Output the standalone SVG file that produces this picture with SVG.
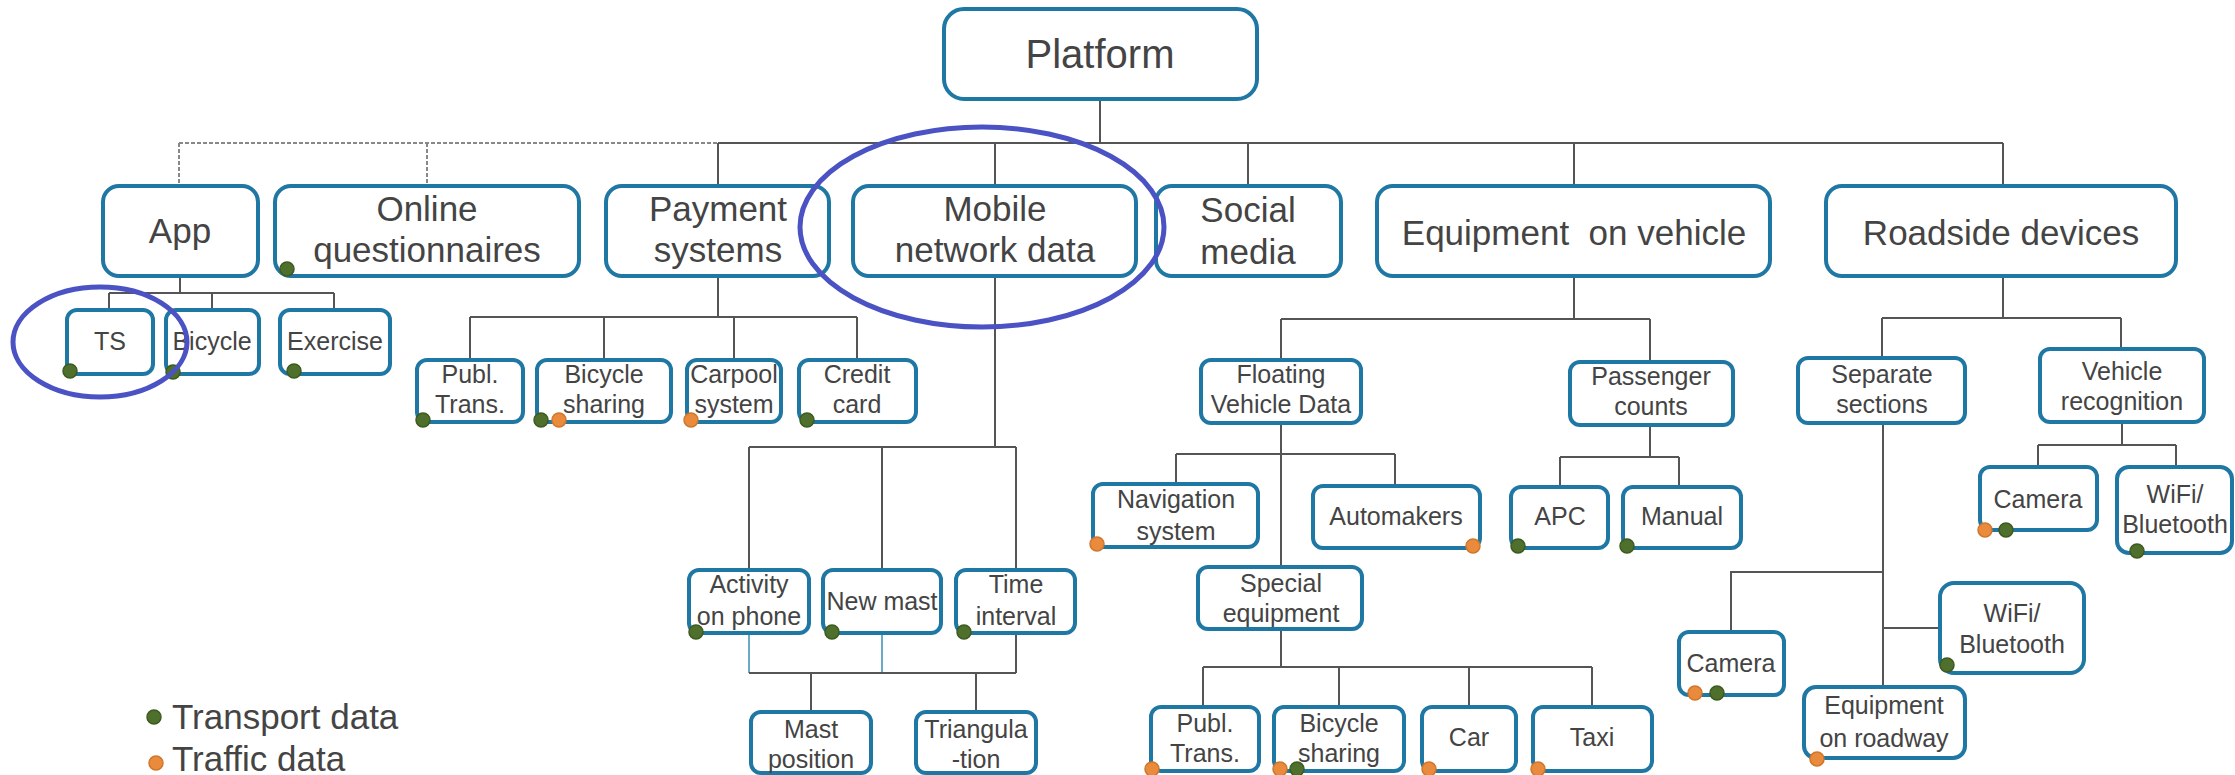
<svg xmlns="http://www.w3.org/2000/svg" width="2235" height="775" viewBox="0 0 2235 775">
<style>
.box{fill:#fff;stroke:#1f77a3;stroke-width:4}
.t0{font-family:"Liberation Sans",Arial,sans-serif;font-size:40px;fill:#444;text-anchor:middle}
.t1{font-family:"Liberation Sans",Arial,sans-serif;font-size:35px;fill:#444;text-anchor:middle}
.t2{font-family:"Liberation Sans",Arial,sans-serif;font-size:25px;fill:#444;text-anchor:middle}
.lg{font-family:"Liberation Sans",Arial,sans-serif;font-size:35px;fill:#444}
.ln{stroke:#555;stroke-width:2;fill:none}
.dl{stroke:#888;stroke-width:2;fill:none;stroke-dasharray:4 2}
.lt{stroke:#6aaac8;stroke-width:2;fill:none}
.g{fill:#4f6f2c;stroke:#3d5a1f;stroke-width:1.5}
.o{fill:#e98a3c;stroke:#d0762c;stroke-width:1.5}
.ring{fill:none;stroke:#4a52c4;stroke-width:5}
</style>
<rect width="2235" height="775" fill="#fff"/>
<g id="connectors">
<line class="ln" x1="1100" y1="99" x2="1100" y2="143"/>
<line class="dl" x1="179" y1="143" x2="718" y2="143"/>
<line class="ln" x1="718" y1="143" x2="2003" y2="143"/>
<line class="dl" x1="179" y1="143" x2="179" y2="186"/>
<line class="dl" x1="427" y1="143" x2="427" y2="186"/>
<path class="ln" d="M718 143V186M995 143V186M1248 143V186M1574 143V186M2003 143V186"/>
<path class="ln" d="M180 276V293M109 293H334M109 293V310M212 293V310M334 293V310"/>
<path class="ln" d="M718 276V317M470 317H857M470 317V360M604 317V360M734 317V360M857 317V360"/>
<path class="ln" d="M995 276V447M749 447H1016M749 447V570M882 447V570M1016 447V570"/>
<path class="lt" d="M749 633V673M882 633V673"/>
<path class="ln" d="M1016 633V673M749 673H1016M811 673V712M976 673V712"/>
<path class="ln" d="M1574 276V319M1281 319H1650M1281 319V360M1650 319V362"/>
<path class="ln" d="M1281 423V567M1176 454H1395M1176 454V484M1395 454V486"/>
<path class="ln" d="M1281 629V667M1203 667H1592M1203 667V707M1339 667V707M1469 667V707M1592 667V707"/>
<path class="ln" d="M1650 425V457M1560 457H1679M1560 457V487M1679 457V487"/>
<path class="ln" d="M2003 276V318M1882 318H2121M1882 318V358M2121 318V349"/>
<path class="ln" d="M2122 422V445M2038 445H2176M2038 445V467M2176 445V467"/>
<path class="ln" d="M1883 423V687M1883 572H1731V632M1883 628H1940"/>
</g>
<g id="platform"><rect class="box" x="944" y="9" width="313" height="90" rx="20"/><text class="t0" x="1100" y="68">Platform</text></g>
<g id="app"><rect class="box" x="103" y="186" width="155" height="90" rx="16"/><text class="t1" x="180" y="243">App</text></g>
<g id="online"><rect class="box" x="275" y="186" width="304" height="90" rx="16"/><text class="t1" x="427" y="221">Online</text><text class="t1" x="427" y="262">questionnaires</text><circle class="g" cx="287" cy="269" r="7"/></g>
<g id="payment"><rect class="box" x="606" y="186" width="223" height="90" rx="16"/><text class="t1" x="718" y="221">Payment</text><text class="t1" x="718" y="262">systems</text></g>
<g id="mobile"><rect class="box" x="853" y="186" width="283" height="90" rx="16"/><text class="t1" x="995" y="221">Mobile</text><text class="t1" x="995" y="262">network data</text></g>
<g id="social"><rect class="box" x="1156" y="186" width="185" height="90" rx="16"/><text class="t1" x="1248" y="222">Social</text><text class="t1" x="1248" y="264">media</text></g>
<g id="equipment"><rect class="box" x="1377" y="186" width="393" height="90" rx="16"/><text class="t1" x="1574" y="245" style="white-space:pre">Equipment  on vehicle</text></g>
<g id="roadside"><rect class="box" x="1826" y="186" width="350" height="90" rx="16"/><text class="t1" x="2001" y="245">Roadside devices</text></g>

<g id="ts"><rect class="box" x="67" y="310" width="86" height="64" rx="10"/><text class="t2" x="110" y="350">TS</text><circle class="g" cx="70" cy="371" r="7"/></g>
<g id="bicycle"><rect class="box" x="166" y="310" width="93" height="64" rx="10"/><text class="t2" x="212" y="350">Bicycle</text><circle class="g" cx="173" cy="372" r="7"/></g>
<g id="exercise"><rect class="box" x="280" y="310" width="110" height="64" rx="10"/><text class="t2" x="335" y="350">Exercise</text><circle class="g" cx="294" cy="371" r="7"/></g>

<g id="publ1"><rect class="box" x="417" y="360" width="106" height="62" rx="10"/><text class="t2" x="470" y="383">Publ.</text><text class="t2" x="470" y="413">Trans.</text><circle class="g" cx="423" cy="420" r="7"/></g>
<g id="bicsh1"><rect class="box" x="537" y="360" width="134" height="62" rx="10"/><text class="t2" x="604" y="383">Bicycle</text><text class="t2" x="604" y="413">sharing</text><circle class="g" cx="541" cy="420" r="7"/><circle class="o" cx="559" cy="420" r="7"/></g>
<g id="carpool"><rect class="box" x="687" y="360" width="94" height="62" rx="10"/><text class="t2" x="734" y="383">Carpool</text><text class="t2" x="734" y="413">system</text><circle class="o" cx="691" cy="420" r="7"/></g>
<g id="credit"><rect class="box" x="799" y="360" width="117" height="62" rx="10"/><text class="t2" x="857" y="383">Credit</text><text class="t2" x="857" y="413">card</text><circle class="g" cx="807" cy="420" r="7"/></g>

<g id="activity"><rect class="box" x="689" y="570" width="120" height="63" rx="10"/><text class="t2" x="749" y="593">Activity</text><text class="t2" x="749" y="625">on phone</text><circle class="g" cx="696" cy="632" r="7"/></g>
<g id="newmast"><rect class="box" x="823" y="570" width="118" height="63" rx="10"/><text class="t2" x="882" y="610">New mast</text><circle class="g" cx="832" cy="632" r="7"/></g>
<g id="time"><rect class="box" x="956" y="570" width="119" height="63" rx="10"/><text class="t2" x="1016" y="593">Time</text><text class="t2" x="1016" y="625">interval</text><circle class="g" cx="964" cy="632" r="7"/></g>
<g id="mast"><rect class="box" x="751" y="712" width="120" height="61" rx="10"/><text class="t2" x="811" y="738">Mast</text><text class="t2" x="811" y="768">position</text></g>
<g id="triang"><rect class="box" x="916" y="712" width="120" height="61" rx="10"/><text class="t2" x="976" y="738">Triangula</text><text class="t2" x="976" y="768">-tion</text></g>

<g id="fvd"><rect class="box" x="1201" y="360" width="160" height="63" rx="10"/><text class="t2" x="1281" y="383">Floating</text><text class="t2" x="1281" y="413">Vehicle Data</text></g>
<g id="passenger"><rect class="box" x="1570" y="362" width="163" height="63" rx="10"/><text class="t2" x="1651" y="385">Passenger</text><text class="t2" x="1651" y="415">counts</text></g>
<g id="nav"><rect class="box" x="1093" y="484" width="165" height="63" rx="10"/><text class="t2" x="1176" y="508">Navigation</text><text class="t2" x="1176" y="540">system</text><circle class="o" cx="1097" cy="544" r="7"/></g>
<g id="automakers"><rect class="box" x="1313" y="486" width="167" height="62" rx="10"/><text class="t2" x="1396" y="525">Automakers</text><circle class="o" cx="1473" cy="546" r="7"/></g>
<g id="special"><rect class="box" x="1198" y="567" width="164" height="62" rx="10"/><text class="t2" x="1281" y="592">Special</text><text class="t2" x="1281" y="622">equipment</text></g>
<g id="publ2"><rect class="box" x="1151" y="707" width="108" height="64" rx="10"/><text class="t2" x="1205" y="732">Publ.</text><text class="t2" x="1205" y="762">Trans.</text><circle class="o" cx="1152" cy="769" r="7"/></g>
<g id="bicsh2"><rect class="box" x="1274" y="707" width="130" height="64" rx="10"/><text class="t2" x="1339" y="732">Bicycle</text><text class="t2" x="1339" y="762">sharing</text><circle class="o" cx="1280" cy="769" r="7"/><circle class="g" cx="1297" cy="769" r="7"/></g>
<g id="car"><rect class="box" x="1422" y="707" width="94" height="64" rx="10"/><text class="t2" x="1469" y="746">Car</text><circle class="o" cx="1429" cy="769" r="7"/></g>
<g id="taxi"><rect class="box" x="1533" y="707" width="119" height="64" rx="10"/><text class="t2" x="1592" y="746">Taxi</text><circle class="o" cx="1538" cy="769" r="7"/></g>
<g id="apc"><rect class="box" x="1511" y="487" width="97" height="61" rx="10"/><text class="t2" x="1560" y="525">APC</text><circle class="g" cx="1518" cy="546" r="7"/></g>
<g id="manual"><rect class="box" x="1623" y="487" width="118" height="61" rx="10"/><text class="t2" x="1682" y="525">Manual</text><circle class="g" cx="1627" cy="546" r="7"/></g>

<g id="separate"><rect class="box" x="1798" y="358" width="167" height="65" rx="10"/><text class="t2" x="1882" y="383">Separate</text><text class="t2" x="1882" y="413">sections</text></g>
<g id="vehrec"><rect class="box" x="2040" y="349" width="164" height="73" rx="10"/><text class="t2" x="2122" y="380">Vehicle</text><text class="t2" x="2122" y="410">recognition</text></g>
<g id="camera1"><rect class="box" x="1980" y="467" width="117" height="63" rx="10"/><text class="t2" x="2038" y="508">Camera</text><circle class="o" cx="1985" cy="530" r="7"/><circle class="g" cx="2006" cy="530" r="7"/></g>
<g id="wifi1"><rect class="box" x="2117" y="467" width="115" height="86" rx="12"/><text class="t2" x="2175" y="503">WiFi/</text><text class="t2" x="2175" y="533">Bluetooth</text><circle class="g" cx="2137" cy="551" r="7"/></g>
<g id="camera2"><rect class="box" x="1679" y="632" width="105" height="63" rx="10"/><text class="t2" x="1731" y="672">Camera</text><circle class="o" cx="1695" cy="693" r="7"/><circle class="g" cx="1717" cy="693" r="7"/></g>
<g id="wifi2"><rect class="box" x="1940" y="583" width="144" height="90" rx="14"/><text class="t2" x="2012" y="622">WiFi/</text><text class="t2" x="2012" y="653">Bluetooth</text><circle class="g" cx="1947" cy="665" r="7"/></g>
<g id="eqroad"><rect class="box" x="1804" y="687" width="161" height="71" rx="12"/><text class="t2" x="1884" y="714">Equipment</text><text class="t2" x="1884" y="747">on roadway</text><circle class="o" cx="1817" cy="759" r="7"/></g>

<g id="annotations">
<ellipse class="ring" cx="982" cy="227" rx="182" ry="100"/>
<ellipse class="ring" cx="100" cy="342" rx="87" ry="55"/>
</g>
<g id="legend">
<circle class="g" cx="154" cy="717" r="7"/><text class="lg" x="172" y="729">Transport data</text>
<circle class="o" cx="156" cy="763" r="7"/><text class="lg" x="172" y="771">Traffic data</text>
</g>
</svg>
